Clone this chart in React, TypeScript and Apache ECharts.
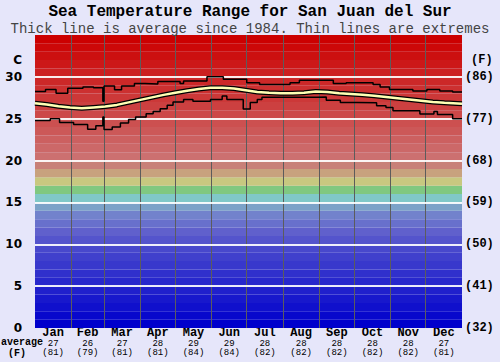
import React, { useEffect, useRef } from 'react';
import * as echarts from 'echarts';

const TITLE = 'Sea Temperature Range for San Juan del Sur';
const SUBTITLE = 'Thick line is average since 1984. Thin lines are extremes';

const MONTHS = ['Jan', 'Feb', 'Mar', 'Apr', 'May', 'Jun', 'Jul', 'Aug', 'Sep', 'Oct', 'Nov', 'Dec'];
const MONTH_START = [0, 31, 59, 90, 120, 151, 181, 212, 243, 273, 304, 334, 365];
const MONTH_AVG_C = ['27', '26', '27', '28', '29', '29', '28', '28', '28', '28', '28', '27'];
const MONTH_AVG_F = ['81', '79', '81', '81', '84', '84', '82', '82', '82', '82', '82', '81'];

const C_TICKS = [0, 5, 10, 15, 20, 25, 30];
const F_LABELS = ['(32)', '(41)', '(50)', '(59)', '(68)', '(77)', '(86)'];
const UNIT_POS = 32;

// colour of each 1 degree band, from 0-1 C up to 34-35 C
const BAND_COLORS = [
  '#0000cc', '#0808cc', '#1010cc', '#1818cc', '#2020cc',
  '#2828cc', '#3030cc', '#3838cc', '#4040cc', '#4848cc',
  '#5454cc', '#6060cc', '#6870cc', '#7282cc', '#7ca2c8',
  '#80c8c8', '#80c880', '#c8c880', '#c8a27e', '#c88078',
  '#cc7070', '#cc6868', '#cc6060', '#cc5858', '#cc5050',
  '#cc4848', '#cc4040', '#cc3838', '#cc3030', '#cc2828',
  '#cc2020', '#cc1818', '#cc1010', '#cc0808', '#cc0000',
];

const MAX_DAYS = [0, 9, 18, 28, 41, 50, 58, 59, 68, 74, 85, 94, 105, 124, 127, 147, 161, 181, 192, 218, 226, 255, 266, 289, 295, 303, 323, 335, 346, 357, 365];
const MAX_TEMPS = [28.25, 28.5, 28.05, 28.65, 28.8, 28.7, 27.1, 28.9, 28.45, 28.9, 29.2, 29.15, 29.45, 29.2, 29.5, 30.0, 29.7, 29.3, 29.1, 29.3, 29.6, 29.2, 29.3, 29.1, 28.8, 28.5, 28.3, 28.5, 28.3, 28.2, 28.2];

const MIN_DAYS = [0, 13, 21, 33, 45, 52, 58, 59, 66, 73, 80, 86, 95, 101, 107, 113, 118, 127, 135, 150, 160, 164, 178, 184, 190, 194, 241, 249, 261, 275, 292, 300, 306, 329, 341, 344, 357, 365];
const MIN_TEMPS = [24.8, 25.0, 24.55, 24.3, 23.75, 24.15, 25.2, 23.7, 24.0, 24.5, 24.9, 25.2, 25.6, 25.85, 26.2, 26.6, 27.0, 27.3, 27.1, 27.3, 27.7, 27.3, 26.15, 26.95, 27.3, 27.55, 27.6, 27.2, 26.95, 26.9, 26.55, 26.35, 25.95, 25.55, 25.85, 25.5, 25.0, 25.0];

const AVG_DAYS = [0, 10, 20, 30, 40, 50, 60, 70, 80, 90, 100, 110, 120, 130, 140, 150, 160, 170, 180, 190, 200, 210, 220, 230, 240, 250, 260, 270, 280, 290, 300, 310, 320, 330, 340, 350, 365];
const AVG_TEMPS = [26.85, 26.7, 26.5, 26.35, 26.25, 26.35, 26.45, 26.65, 26.95, 27.25, 27.55, 27.85, 28.1, 28.35, 28.55, 28.7, 28.7, 28.6, 28.4, 28.2, 28.1, 28.05, 28.05, 28.1, 28.25, 28.2, 28.05, 27.95, 27.85, 27.75, 27.6, 27.45, 27.3, 27.15, 27.0, 26.9, 26.8];

const MONO = '"Liberation Mono", "DejaVu Sans Mono", monospace';
const SANS = '"DejaVu Sans", Verdana, sans-serif';

export default function App() {
  const ref = useRef<HTMLDivElement>(null);

  useEffect(() => {
    if (!ref.current) return;
    const chart = echarts.init(ref.current, null, { renderer: 'svg' });

    const monthMid = MONTHS.map((_, i) => (MONTH_START[i] + MONTH_START[i + 1]) / 2);
    const toPairs = (xs: number[], ys: number[]) => xs.map((x, i) => [x, ys[i]]);
    const leftTicks = [...C_TICKS, UNIT_POS];

    const option: any = {
      animation: false,
      backgroundColor: '#e6e6fa',
      title: [
        {
          text: TITLE,
          left: 'center',
          top: 4,
          padding: 0,
          textStyle: { fontFamily: MONO, fontSize: 16, fontWeight: 'bold', color: '#000' },
        },
        {
          text: SUBTITLE,
          left: 'center',
          top: 22,
          padding: 0,
          textStyle: { fontFamily: MONO, fontSize: 14, fontWeight: 'normal', color: '#444' },
        },
      ],
      grid: { left: 35, right: 38, top: 35, bottom: 34 },
      xAxis: {
        type: 'value',
        min: 0,
        max: 365,
        axisLine: { show: false },
        axisTick: { show: false },
        splitLine: { show: false },
        axisLabel: {
          customValues: monthMid,
          margin: -1,
          hideOverlap: false,
          formatter: (v: number) => {
            let idx = 0;
            let best = Infinity;
            monthMid.forEach((m, i) => {
              const d = Math.abs(m - v);
              if (d < best) { best = d; idx = i; }
            });
            return `{m|${MONTHS[idx]}}\n{v|${MONTH_AVG_C[idx]}}\n{v|(${MONTH_AVG_F[idx]})}`;
          },
          rich: {
            m: { fontFamily: MONO, fontWeight: 'bold', fontSize: 12, lineHeight: 12, color: '#000', align: 'center' },
            v: { fontFamily: MONO, fontSize: 9, lineHeight: 9, color: '#000', align: 'center' },
          },
        },
      },
      yAxis: [
        {
          type: 'value',
          position: 'left',
          min: 0,
          max: 35,
          interval: 5,
          axisLine: { show: false },
          axisTick: { show: false },
          splitLine: { show: false },
          axisLabel: {
            customValues: leftTicks,
            margin: 13,
            fontFamily: SANS,
            fontWeight: 'bold',
            fontSize: 12,
            color: '#000',
            formatter: (v: number) => (v === UNIT_POS ? 'C' : String(v)),
          },
        },
        {
          type: 'value',
          position: 'right',
          min: 0,
          max: 35,
          interval: 5,
          axisLine: { show: false },
          axisTick: { show: false },
          splitLine: { show: false },
          axisLabel: {
            customValues: leftTicks,
            margin: 3,
            fontFamily: MONO,
            fontWeight: 'bold',
            fontSize: 12,
            color: '#000',
            formatter: (v: number) => {
              if (v === UNIT_POS) return '{u|(F)}';
              const i = C_TICKS.indexOf(v);
              return i >= 0 ? F_LABELS[i] : '';
            },
            rich: {
              u: { fontFamily: MONO, fontWeight: 'bold', fontSize: 12, color: '#000', padding: [0, 0, 0, 6] },
            },
          },
        },
      ],
      graphic: [
        {
          type: 'text',
          x: 1,
          y: 342.5,
          style: { text: 'average', fontFamily: MONO, fontSize: 10, fontWeight: 'bold', fill: '#000', verticalAlign: 'middle', align: 'left' },
        },
        {
          type: 'text',
          x: 17,
          y: 353.5,
          style: { text: '(F)', fontFamily: MONO, fontSize: 10, fontWeight: 'bold', fill: '#000', verticalAlign: 'middle', align: 'center' },
        },
      ],
      series: [
        {
          type: 'line',
          data: [],
          silent: true,
          z: 1,
          markArea: {
            silent: true,
            data: BAND_COLORS.map((c, i) => [
              { yAxis: i, itemStyle: { color: c, borderWidth: 0 } },
              { yAxis: i + 1 },
            ]),
          },
        },
        {
          type: 'line',
          data: [],
          silent: true,
          z: 2,
          markLine: {
            silent: true,
            symbol: ['none', 'none'],
            label: { show: false },
            lineStyle: { color: '#5c5c5c', width: 1, type: 'solid' },
            data: MONTH_START.slice(1, 12).map((d) => ({ xAxis: d })),
          },
        },
        {
          type: 'line',
          data: [],
          silent: true,
          z: 3,
          markLine: {
            silent: true,
            symbol: ['none', 'none'],
            label: { show: false },
            lineStyle: { color: 'rgba(255,255,255,0.9)', width: 2, type: 'solid' },
            data: C_TICKS.slice(1).map((t) => ({ yAxis: t })),
          },
        },
        {
          type: 'line',
          step: 'end',
          data: toPairs(MAX_DAYS, MAX_TEMPS),
          showSymbol: false,
          silent: true,
          z: 10,
          lineStyle: { color: '#000', width: 1.5 },
        },
        {
          type: 'line',
          step: 'end',
          data: toPairs(MIN_DAYS, MIN_TEMPS),
          showSymbol: false,
          silent: true,
          z: 10,
          lineStyle: { color: '#000', width: 1.5 },
        },
        {
          type: 'line',
          data: toPairs(AVG_DAYS, AVG_TEMPS),
          showSymbol: false,
          silent: true,
          z: 11,
          lineStyle: { color: '#000', width: 5 },
        },
        {
          type: 'line',
          data: toPairs(AVG_DAYS, AVG_TEMPS),
          showSymbol: false,
          silent: true,
          z: 12,
          lineStyle: { color: '#ffffb4', width: 2.5 },
        },
      ],
    };

    chart.setOption(option);
    return () => chart.dispose();
  }, []);

  return <div ref={ref} style={{ position: 'fixed', left: 0, top: 0, width: 500, height: 362 }} />;
}
